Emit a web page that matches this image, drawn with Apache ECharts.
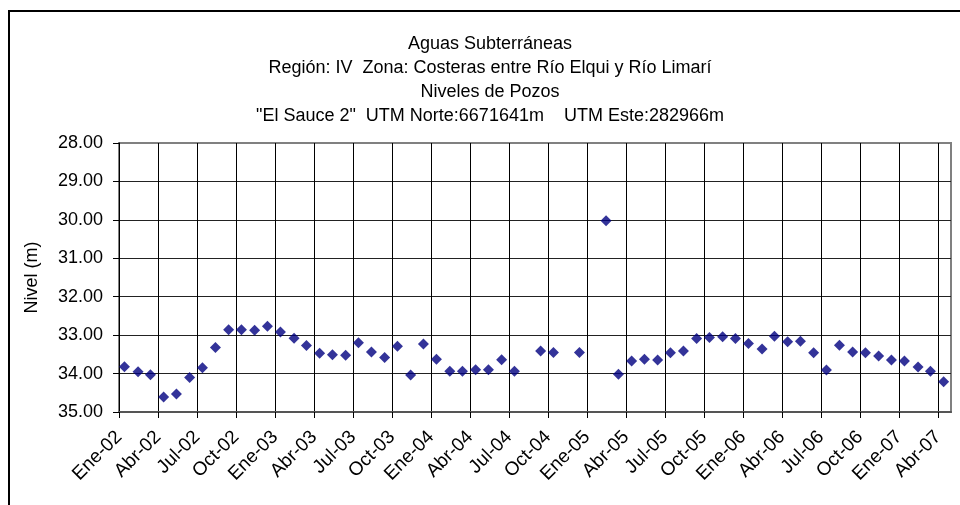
<!DOCTYPE html>
<html>
<head>
<meta charset="utf-8">
<script src="https://cdn.jsdelivr.net/npm/echarts@6.0.0/dist/echarts.min.js"></script>
<style>
  html, body { margin: 0; padding: 0; background: #fff; }
  #frame { position: absolute; left: 8px; top: 10px; width: 980px; height: 520px;
           border-left: 2px solid #000; border-top: 2px solid #000; box-sizing: border-box; }
  #chart { position: absolute; left: 0; top: 0; width: 960px; height: 505px; }
</style>
</head>
<body>
<div id="frame"></div>
<div id="chart"></div>
<script>
// Well "El Sauce 2": monthly water-table readings (depth, m)
const dates = [
  '2002-01-14','2002-02-14','2002-03-14','2002-04-14','2002-05-14','2002-06-14',
  '2002-07-14','2002-08-14','2002-09-14','2002-10-14','2002-11-14','2002-12-14',
  '2003-01-14','2003-02-14','2003-03-14','2003-04-14','2003-05-14','2003-06-14',
  '2003-07-14','2003-08-14','2003-09-14','2003-10-14','2003-11-14','2003-12-14',
  '2004-01-14','2004-02-14','2004-03-14','2004-04-14','2004-05-14','2004-06-14',
  '2004-07-14','2004-09-14','2004-10-14','2004-12-14',
  '2005-02-14','2005-03-14','2005-04-14','2005-05-14','2005-06-14',
  '2005-07-14','2005-08-14','2005-09-14','2005-10-14','2005-11-14','2005-12-14',
  '2006-01-14','2006-02-14','2006-03-14','2006-04-14','2006-05-14','2006-06-14',
  '2006-07-14','2006-08-14','2006-09-14','2006-10-14','2006-11-14','2006-12-14',
  '2007-01-14','2007-02-14','2007-03-14','2007-04-14'
];
const levels = [
  33.82, 33.95, 34.03, 34.61, 34.53, 34.10,
  33.85, 33.32, 32.86, 32.86, 32.87, 32.77,
  32.92, 33.08, 33.27, 33.47, 33.51, 33.52,
  33.20, 33.44, 33.58, 33.29, 34.04, 33.23,
  33.63, 33.94, 33.94, 33.90, 33.90, 33.64,
  33.94, 33.41, 33.45, 33.45,
  30.02, 34.02, 33.67, 33.63, 33.65,
  33.46, 33.41, 33.09, 33.06, 33.04, 33.09,
  33.22, 33.36, 33.03, 33.17, 33.16, 33.46,
  33.91, 33.26, 33.44, 33.46, 33.54, 33.65,
  33.67, 33.83, 33.94, 34.21
];
const monthNames = ['Ene','Feb','Mar','Abr','May','Jun','Jul','Ago','Sep','Oct','Nov','Dic'];
const startYear = 2002;
const axisMonths = 64;      // Jan 2002 .. start of May 2007
const levelMin = 28, levelMax = 35;
const titleLines = [
  'Aguas Subterráneas',
  'Región: IV  Zona: Costeras entre Río Elqui y Río Limarí',
  'Niveles de Pozos',
  '"El Sauce 2"  UTM Norte:6671641m    UTM Este:282966m'
];

// months elapsed since January of the start year (fractional by day)
function monthIndex(s) {
  const [y, m, d] = s.split('-').map(Number);
  const dim = new Date(y, m, 0).getDate();
  return (y - startYear) * 12 + (m - 1) + (d - 1) / dim;
}
function monthLabel(v) {
  const i = Math.round(v);
  if (Math.abs(v - i) > 1e-6 || i % 3 !== 0) return '';
  const yy = startYear + Math.floor(i / 12);
  return monthNames[i % 12] + '-' + String(yy % 100).padStart(2, '0');
}

const points = dates.map((d, i) => [monthIndex(d), levels[i]]);
const font = '"Liberation Sans", Arial, Helvetica, sans-serif';

const chart = echarts.init(document.getElementById('chart'), null, { renderer: 'canvas' });
chart.setOption({
  backgroundColor: 'transparent',
  animation: false,
  textStyle: { fontFamily: font },
  title: {
    text: titleLines.join('\n'),
    left: 490,
    top: 32,
    padding: 0,
    textAlign: 'center',
    textStyle: { fontFamily: font, fontSize: 18, fontWeight: 'normal', color: '#000', lineHeight: 24 }
  },
  grid: {
    left: 119, right: 9, top: 143, bottom: 93,
    show: true, borderColor: '#808080', borderWidth: 2, backgroundColor: '#fff'
  },
  xAxis: {
    type: 'value',
    min: 0, max: axisMonths, interval: 3,
    axisLine: { show: true, lineStyle: { color: '#555', width: 2 } },
    axisTick: { show: true, length: 6, lineStyle: { color: '#000' } },
    axisLabel: {
      rotate: 45, margin: 22, fontSize: 19, color: '#000', fontFamily: font,
      formatter: monthLabel, showMaxLabel: false
    },
    splitLine: { show: true, showMinLine: false, showMaxLine: false, lineStyle: { color: '#000', width: 1 } }
  },
  yAxis: {
    type: 'value',
    inverse: true,
    min: levelMin, max: levelMax, interval: 1,
    name: 'Nivel (m)',
    nameLocation: 'middle',
    nameRotate: 90,
    nameGap: 78,
    nameTextStyle: { fontFamily: font, fontSize: 18, color: '#000' },
    axisLine: { show: true, lineStyle: { color: '#000', width: 1 } },
    axisTick: { show: true, length: 6, lineStyle: { color: '#000' } },
    axisLabel: { fontSize: 18, color: '#000', margin: 16, fontFamily: font, formatter: v => v.toFixed(2) },
    splitLine: { show: true, showMinLine: false, showMaxLine: false, lineStyle: { color: '#222', width: 1 } }
  },
  series: [{
    type: 'scatter',
    data: points,
    symbol: 'diamond',
    symbolSize: 11,
    itemStyle: { color: '#000080' },
    z: 5
  }]
});
</script>
</body>
</html>
